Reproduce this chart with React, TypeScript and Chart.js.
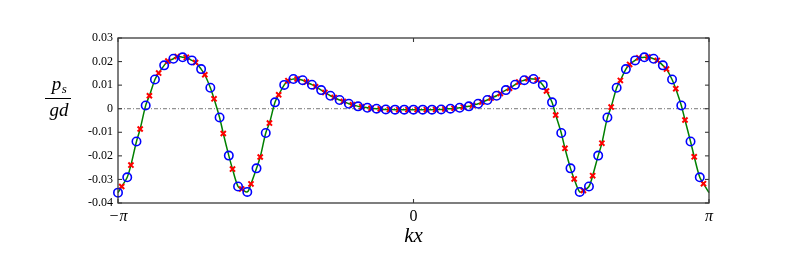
import React, { useEffect, useRef } from 'react';
import { Chart, registerables } from 'chart.js';

Chart.register(...registerables);

// grid: 64 samples per period, x = -pi + i * 2pi / 64
const N = 64;
const crossOffset = 0.4; // crosses sit 0.4 of a step after each circle

// p_s / gd at the circle samples (i = 0..63)
const circleValues = [
  -0.0356, -0.0291, -0.0139, 0.0014, 0.0124, 0.0184, 0.0212, 0.0218,
  0.0205, 0.0168, 0.0089, -0.0037, -0.0199, -0.033, -0.0353, -0.0253,
  -0.0103, 0.0027, 0.0101, 0.0126, 0.0121, 0.0102, 0.0079, 0.0055,
  0.0037, 0.0021, 0.001, 0.0004, 0.0, -0.0003, -0.0004, -0.0004,
  -0.0004, -0.0004, -0.0004, -0.0003, 0.0, 0.0004, 0.001, 0.0021,
  0.0037, 0.0055, 0.0079, 0.0102, 0.0121, 0.0126, 0.0101, 0.0027,
  -0.0103, -0.0253, -0.0353, -0.033, -0.0199, -0.0037, 0.0089, 0.0168,
  0.0205, 0.0218, 0.0212, 0.0184, 0.0124, 0.0014, -0.0139, -0.0291,
];

// p_s / gd at the cross samples (j = 0..63)
const crossValues = [
  -0.033, -0.0239, -0.0086, 0.0055, 0.0151, 0.0202, 0.0222, 0.0218,
  0.0196, 0.0144, 0.0042, -0.0105, -0.0256, -0.0341, -0.0319, -0.0205,
  -0.0061, 0.0059, 0.0119, 0.0126, 0.0113, 0.0093, 0.0069, 0.0048,
  0.0031, 0.0017, 0.0008, 0.0002, -0.0001, -0.0003, -0.0004, -0.0004,
  -0.0004, -0.0004, -0.0003, -0.0001, 0.0002, 0.0007, 0.0015, 0.0028,
  0.0045, 0.0065, 0.0087, 0.0113, 0.0127, 0.0122, 0.0075, -0.0027,
  -0.0168, -0.0298, -0.0347, -0.0284, -0.0146, 0.0007, 0.012, 0.0188,
  0.0216, 0.0219, 0.0205, 0.0168, 0.0085, -0.0048, -0.0204, -0.0318,
];

const xTickValues = [-Math.PI, 0, Math.PI];
const xTickLabels = ['\u2212\u03c0', '0', '\u03c0'];
const yTickValues = [-0.04, -0.03, -0.02, -0.01, 0, 0.01, 0.02, 0.03];
const yTickLabels = ['-0.04', '-0.03', '-0.02', '-0.01', '0', '0.01', '0.02', '0.03'];

const xTitle = 'kx';
const yNumerator = 'p';
const yNumeratorSub = 's';
const yDenominator = 'gd';

const step = (2 * Math.PI) / N;
const circlePts = circleValues.map((v, i) => ({ x: -Math.PI + i * step, y: v }));
const crossPts = crossValues.map((v, j) => ({ x: -Math.PI + (j + crossOffset) * step, y: v }));
const linePts = [...circlePts, ...crossPts, { x: Math.PI, y: circleValues[0] }].sort((a, b) => a.x - b.x);

const FRAME = '#3a3a3a';
const SERIF = '"Liberation Serif", serif';

const framePlugin = {
  id: 'framePlugin',
  afterDatasetsDraw(chart: any) {
    const { ctx, chartArea, scales } = chart;
    const { left, right, top, bottom } = chartArea;
    const xs = scales.x;
    const ys = scales.y;
    ctx.save();
    ctx.strokeStyle = FRAME;
    ctx.lineWidth = 1.3;
    ctx.strokeRect(left, top, right - left, bottom - top);
    const seg = (x1: number, y1: number, x2: number, y2: number) => {
      ctx.beginPath();
      ctx.moveTo(x1, y1);
      ctx.lineTo(x2, y2);
      ctx.stroke();
    };
    ctx.lineWidth = 1.1;
    yTickValues.forEach((v) => {
      const py = ys.getPixelForValue(v);
      seg(left, py, left + 4, py);
      seg(right, py, right - 4, py);
    });
    xTickValues.forEach((v) => {
      const px = xs.getPixelForValue(v);
      seg(px, top, px, top + 4);
      seg(px, bottom, px, bottom - 4);
    });

    // axis titles
    ctx.fillStyle = '#000';
    ctx.textBaseline = 'alphabetic';
    // x title
    ctx.font = `italic 21px ${SERIF}`;
    ctx.textAlign = 'center';
    ctx.fillText(xTitle, (left + right) / 2, 242);

    // y title as fraction
    const cx = 59;
    const barY = 98.5;
    ctx.font = `italic 19px ${SERIF}`;
    const pw = ctx.measureText(yNumerator).width;
    ctx.font = `italic 13px ${SERIF}`;
    const sw = ctx.measureText(yNumeratorSub).width;
    const numW = pw + sw;
    const nx = cx - numW / 2;
    ctx.textAlign = 'left';
    ctx.font = `italic 19px ${SERIF}`;
    ctx.fillText(yNumerator, nx, 89.5);
    ctx.font = `italic 13px ${SERIF}`;
    ctx.fillText(yNumeratorSub, nx + pw + 0.5, 92.5);
    ctx.font = `italic 19px ${SERIF}`;
    ctx.textAlign = 'center';
    ctx.fillText(yDenominator, cx, 115.5);
    ctx.strokeStyle = '#000';
    ctx.lineWidth = 1;
    seg(45, barY, 71, barY);
    ctx.restore();
  },
};

export default function App() {
  const ref = useRef<HTMLCanvasElement | null>(null);
  useEffect(() => {
    if (!ref.current) return;
    const chart = new Chart(ref.current, {
      type: 'scatter',
      data: {
        datasets: [
          {
            label: 'circles',
            data: circlePts,
            showLine: false,
            pointStyle: 'circle',
            pointRadius: 4.2,
            pointBorderWidth: 1.6,
            pointBorderColor: '#0000ff',
            pointBackgroundColor: 'rgba(0,0,0,0)',
            order: 0,
            clip: false,
          } as any,
          {
            label: 'crosses',
            data: crossPts,
            showLine: false,
            pointStyle: 'crossRot',
            pointRadius: 3.6,
            pointBorderWidth: 2,
            pointBorderColor: '#ff0000',
            order: 1,
            clip: false,
          } as any,
          {
            label: 'curve',
            data: linePts,
            showLine: true,
            pointRadius: 0,
            borderColor: '#008000',
            borderWidth: 1.5,
            tension: 0.35,
            order: 2,
            clip: false,
          } as any,
          {
            label: 'zero',
            data: [
              { x: -Math.PI, y: 0 },
              { x: Math.PI, y: 0 },
            ],
            showLine: true,
            pointRadius: 0,
            borderColor: '#555555',
            borderWidth: 0.8,
            borderDash: [4, 2, 1, 2],
            order: 3,
          } as any,
        ],
      },
      options: {
        animation: false,
        responsive: false,
        maintainAspectRatio: false,
        layout: { padding: { left: 0, top: 38, right: 80, bottom: 0 } },
        plugins: {
          legend: { display: false },
          tooltip: { enabled: false },
          title: { display: false },
        },
        scales: {
          x: {
            type: 'linear',
            min: -Math.PI,
            max: Math.PI,
            grid: { display: false, drawTicks: false },
            border: { display: false },
            afterFit: (s: any) => {
              s.height = 51;
            },
            afterBuildTicks: (s: any) => {
              s.ticks = xTickValues.map((v) => ({ value: v }));
            },
            ticks: {
              padding: 4,
              color: '#000',
              font: (c: any) => ({
                family: SERIF,
                size: 16,
                style: c.tick && Math.abs(c.tick.value) > 1e-9 ? 'italic' : 'normal',
              }),
              callback: (v: any) => {
                const idx = xTickValues.findIndex((t) => Math.abs(t - Number(v)) < 1e-9);
                return idx >= 0 ? xTickLabels[idx] : '';
              },
            },
          },
          y: {
            type: 'linear',
            min: -0.04,
            max: 0.03,
            grid: { display: false, drawTicks: false },
            border: { display: false },
            afterFit: (s: any) => {
              s.width = 118;
            },
            afterBuildTicks: (s: any) => {
              s.ticks = yTickValues.map((v) => ({ value: v }));
            },
            ticks: {
              padding: 5,
              color: '#000',
              font: { family: SERIF, size: 12 },
              callback: (v: any) => {
                const idx = yTickValues.findIndex((t) => Math.abs(t - Number(v)) < 1e-9);
                return idx >= 0 ? yTickLabels[idx] : '';
              },
            },
          },
        },
      },
      plugins: [framePlugin],
    });
    return () => chart.destroy();
  }, []);

  return (
    <div style={{ position: 'fixed', left: 0, top: 0, width: 789, height: 254, background: '#fff' }}>
      <canvas ref={ref} width={789} height={254} style={{ width: 789, height: 254, display: 'block' }} />
    </div>
  );
}
